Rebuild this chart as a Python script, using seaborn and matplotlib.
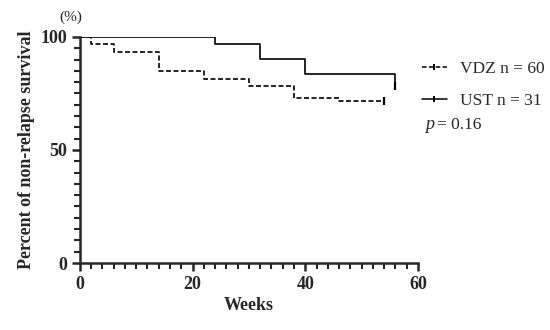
import matplotlib
matplotlib.use("Agg")
import matplotlib.pyplot as plt
from matplotlib.lines import Line2D
from matplotlib.ticker import MultipleLocator
import seaborn as sns
import pandas as pd

# Data
vdz_weeks = [0, 2, 6, 14, 22, 30, 38, 46, 54]
vdz_surv = [100, 96.7, 93.2, 85.0, 81.4, 78.2, 73.1, 71.7, 71.7]
ust_weeks = [0, 24, 32, 40, 56, 56]
ust_surv = [100, 96.8, 90.1, 83.6, 83.6, 78.3]
vdz_censor = ([54], [71.7])
ust_censor = ([56], [78.3])
series_labels = ["VDZ n = 60", "UST n = 31"]
p_text = "= 0.16"
x_ticks = [0, 20, 40, 60]
y_ticks = [0, 50, 100]

sns.set_theme(style="ticks")
plt.rcParams["font.family"] = ["Liberation Serif", "DejaVu Serif"]

fig = plt.figure(figsize=(5.5, 3.3), dpi=100)
ax = fig.add_axes([0.145, 0.203, 0.615, 0.685])

df_v = pd.DataFrame({"week": vdz_weeks, "surv": vdz_surv})
df_u = pd.DataFrame({"week": ust_weeks, "surv": ust_surv})
sns.lineplot(data=df_v, x="week", y="surv", drawstyle="steps-post", color="black",
             linestyle=(0, (3, 1.5)), linewidth=1.2, ax=ax, estimator=None, sort=False)
sns.lineplot(data=df_u, x="week", y="surv", drawstyle="steps-post", color="black",
             linestyle="-", linewidth=1.2, ax=ax, estimator=None, sort=False)
ax.plot(vdz_censor[0], vdz_censor[1], marker="|", markersize=6, markeredgewidth=1.6,
        color="black", linestyle="none")
ax.plot(ust_censor[0], ust_censor[1], marker="|", markersize=6, markeredgewidth=1.6,
        color="black", linestyle="none")

ax.set_xlim(0, 60)
ax.set_ylim(0, 100)
ax.set_xticks(x_ticks)
ax.set_yticks(y_ticks)
ax.xaxis.set_minor_locator(MultipleLocator(2))
ax.yaxis.set_minor_locator(MultipleLocator(5))
ax.tick_params(axis="both", which="major", length=6, width=1.8, labelsize=13, pad=3)
ax.tick_params(axis="both", which="minor", length=4, width=1.5)
for lab in ax.get_xticklabels() + ax.get_yticklabels():
    lab.set_fontweight("bold")
for s in ["top", "right"]:
    ax.spines[s].set_visible(False)
for s in ["left", "bottom"]:
    ax.spines[s].set_linewidth(1.8)
ax.margins(0)

ax.set_xlabel("Weeks", fontsize=13, fontweight="bold", labelpad=3)
ax.set_ylabel("Percent of non-relapse survival", fontsize=13, fontweight="bold", labelpad=4)
fig.text(0.108, 0.948, "(%)", fontsize=11, ha="left", va="center")

handles = [
    Line2D([0], [0], color="black", linestyle=(0, (3, 1.5)), linewidth=1.1,
           marker="|", markersize=5, markeredgewidth=1.4),
    Line2D([0], [0], color="black", linestyle="-", linewidth=1.1,
           marker="|", markersize=5, markeredgewidth=1.4),
]
leg = fig.legend(handles, series_labels, loc="upper left", bbox_to_anchor=(0.767, 0.815),
                 frameon=False, fontsize=12.5, handlelength=1.45, handletextpad=0.75,
                 labelspacing=0.9, numpoints=1, borderpad=0, borderaxespad=0)
fig.text(0.772, 0.622, "p", fontsize=13, ha="left", va="center", style="italic")
fig.text(0.795, 0.622, p_text, fontsize=12.5, ha="left", va="center")

fig.savefig("out.png", dpi=100)
